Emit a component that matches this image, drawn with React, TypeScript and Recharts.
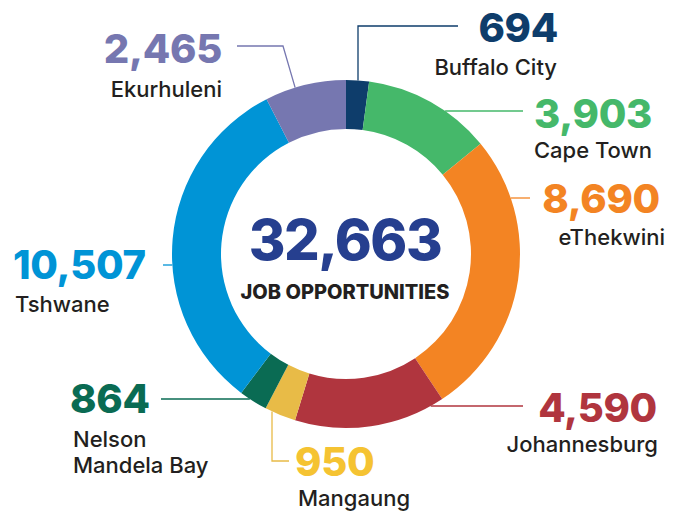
import React from 'react';
import { PieChart, Pie, Cell } from 'recharts';

const categories = ['Buffalo City', 'Cape Town', 'eThekwini', 'Johannesburg', 'Mangaung', 'Nelson Mandela Bay', 'Tshwane', 'Ekurhuleni'];
const values = [694, 3903, 8690, 4590, 950, 864, 10507, 2465];
const centerCaption = 'JOB OPPORTUNITIES';

const sliceColors = ['#0e3d6b', '#45b86a', '#f38423', '#b0353e', '#e8bb47', '#0a6b53', '#0094d6', '#7677b0'];
const numberColors = ['#0e3d6b', '#45b86a', '#f38423', '#b0353e', '#f5c332', '#0a6b53', '#0094d6', '#7677b0'];

const data = categories.map((name, i) => ({ name, value: values[i] }));
const total = values.reduce((a, b) => a + b, 0);

// Leader line layout relative to pie centre
type Leader = { kind: 'h' | 'v' | 'a'; at: number; side?: number; pts: number[][] };
const leaders: Leader[] = [
  { kind: 'v', at: 12, side: -1, pts: [[12, -228], [112, -228]] },
  { kind: 'h', at: -143, side: 1, pts: [[177, -143]] },
  { kind: 'h', at: -56, side: 1, pts: [[184, -56]] },
  { kind: 'h', at: 152, side: 1, pts: [[177, 152]] },
  { kind: 'v', at: -74, side: 1, pts: [[-74, 207], [-57, 207]] },
  { kind: 'h', at: 145, side: -1, pts: [[-185, 145]] },
  { kind: 'h', at: 11, side: -1, pts: [[-183, 11]] },
  { kind: 'a', at: 343, pts: [[-63, -208], [-109, -208]] },
];

type LabelPos = { anchor: 'start' | 'end'; x: number; numY: number; nameX: number; nameY: number; wrapAfter?: number };
const labelPos: LabelPos[] = [
  { anchor: 'end', x: 212, numY: -212, nameX: 211, nameY: -179 },
  { anchor: 'end', x: 306, numY: -126, nameX: 306, nameY: -96 },
  { anchor: 'end', x: 314, numY: -41, nameX: 319, nameY: -9 },
  { anchor: 'end', x: 311, numY: 168, nameX: 312, nameY: 198 },
  { anchor: 'start', x: -51, numY: 222, nameX: -48, nameY: 252 },
  { anchor: 'start', x: -276, numY: 159, nameX: -273, nameY: 193, wrapAfter: 1 },
  { anchor: 'start', x: -333, numY: 25, nameX: -331, nameY: 58 },
  { anchor: 'end', x: -124, numY: -191, nameX: -124, nameY: -157 },
];

const FONT = 'Inter, sans-serif';

function renderLabel(props: any) {
  const { cx, cy, outerRadius, index } = props;
  const R = outerRadius;
  const ld = leaders[index];
  let sx = 0;
  let sy = 0;
  if (ld.kind === 'h') {
    sy = ld.at;
    sx = (ld.side || 1) * Math.sqrt(R * R - sy * sy);
  } else if (ld.kind === 'v') {
    sx = ld.at;
    sy = (ld.side || 1) * Math.sqrt(R * R - sx * sx);
  } else {
    const a = (ld.at * Math.PI) / 180;
    sx = R * Math.sin(a);
    sy = -R * Math.cos(a);
  }
  const pts = [[sx, sy], ...ld.pts].map(([x, y]) => `${cx + x},${cy + y}`).join(' ');
  const lp = labelPos[index];
  const words = categories[index].split(' ');
  const lines = lp.wrapAfter ? [words.slice(0, lp.wrapAfter).join(' '), words.slice(lp.wrapAfter).join(' ')] : [categories[index]];
  return (
    <g key={`lbl-${index}`}>
      {index === 0 && (
        <g>
          <text x={cx - 1} y={cy + 6} textAnchor="middle" fill="#263f8f" fontFamily={FONT} fontWeight={800} fontSize={56} letterSpacing={-1.5}>
            {total.toLocaleString('en-US')}
          </text>
          <text x={cx - 1} y={cy + 45} textAnchor="middle" fill="#231f20" fontFamily={FONT} fontWeight={800} fontSize={20}>
            {centerCaption}
          </text>
        </g>
      )}
      <polyline points={pts} fill="none" stroke={sliceColors[index]} strokeWidth={1.3} />
      <text
        x={cx + lp.x}
        y={cy + lp.numY}
        textAnchor={lp.anchor}
        fill={numberColors[index]}
        fontFamily={FONT}
        fontWeight={800}
        fontSize={40}
        letterSpacing={-0.3}
      >
        {values[index].toLocaleString('en-US')}
      </text>
      {lines.map((ln, k) => (
        <text
          key={k}
          x={cx + lp.nameX}
          y={cy + lp.nameY + k * 26}
          textAnchor={lp.anchor}
          fill="#231f20"
          fontFamily={FONT}
          fontWeight={500}
          fontSize={22}
        >
          {ln}
        </text>
      ))}
    </g>
  );
}

export default function App() {
  return (
    <div style={{ position: 'absolute', left: 0, top: 0, width: 684, height: 515, background: '#fff' }}>
      <PieChart width={684} height={515} margin={{ top: 0, right: 0, bottom: 0, left: 0 }}>
        <Pie
          data={data}
          dataKey="value"
          nameKey="name"
          cx={346}
          cy={254}
          innerRadius={125}
          outerRadius={174}
          startAngle={90}
          endAngle={-270}
          stroke="none"
          isAnimationActive={false}
          label={renderLabel}
          labelLine={false}
        >
          {data.map((d, i) => (
            <Cell key={d.name} fill={sliceColors[i]} />
          ))}
        </Pie>
      </PieChart>
    </div>
  );
}
